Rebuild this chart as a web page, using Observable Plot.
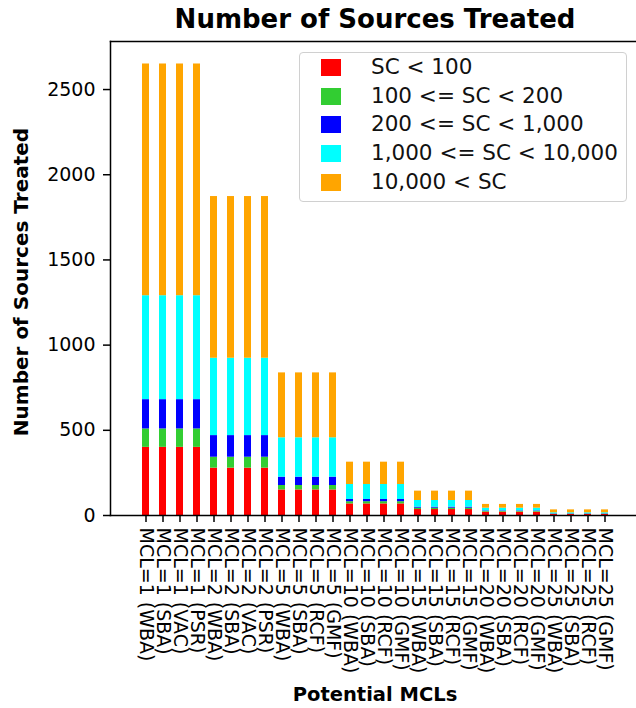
<!DOCTYPE html>
<html>
<head>
<meta charset="utf-8">
<script src="https://cdn.jsdelivr.net/npm/d3@7"></script>
<script src="https://cdn.jsdelivr.net/npm/@observablehq/plot@0.6"></script>
<style>
  body { margin: 0; background: #fff; font-family: "DejaVu Sans", sans-serif; color: #000; }
  #wrap { position: relative; width: 636px; height: 708px; overflow: hidden; }
  #title { position: absolute; left: 375px; top: 6px; transform: translateX(-50%); font-weight: bold; font-size: 26px; line-height: 26px; white-space: nowrap; }
  #chart { position: absolute; left: 0; top: 36px; }
  #ylabel { position: absolute; left: 21px; top: 282px; transform: translate(-50%, -50%) rotate(-90deg); font-weight: bold; font-size: 20px; line-height: 20px; white-space: nowrap; }
  #xlabel { position: absolute; left: 375px; top: 685px; transform: translateX(-50%); font-weight: bold; font-size: 19.5px; line-height: 20px; white-space: nowrap; }
  #legend { position: absolute; left: 299px; top: 52px; width: 326px; height: 148px; border: 1px solid #d0d0d0; border-radius: 4px; background: rgba(255,255,255,0.85); box-sizing: content-box; }
  #legend > div { margin: 0 !important; padding: 0 !important; columns: auto !important; display: block !important; }
  #legend [class$="-swatch"] { display: flex !important; align-items: center; box-sizing: border-box; height: 28.7px; line-height: 28.7px; margin: 0 !important; padding: 0 0 0 21px !important; font-size: 21.5px; font-family: "DejaVu Sans", sans-serif; color: #111; overflow: visible; }
  #legend svg { margin-right: 30px !important; }
</style>
</head>
<body>
<div id="wrap">
  <div id="title">Number of Sources Treated</div>
  <div id="chart"></div>
  <div id="ylabel">Number of Sources Treated</div>
  <div id="xlabel">Potential MCLs</div>
  <div id="legend"></div>
</div>
<script>
// Categories (x axis tick labels)
const categories = [
  "MCL=1 (WBA)", "MCL=1 (SBA)", "MCL=1 (VAC)", "MCL=1 (PSR)",
  "MCL=2 (WBA)", "MCL=2 (SBA)", "MCL=2 (VAC)", "MCL=2 (PSR)",
  "MCL=5 (WBA)", "MCL=5 (SBA)", "MCL=5 (RCF)", "MCL=5 (GMF)",
  "MCL=10 (WBA)", "MCL=10 (SBA)", "MCL=10 (RCF)", "MCL=10 (GMF)",
  "MCL=15 (WBA)", "MCL=15 (SBA)", "MCL=15 (RCF)", "MCL=15 (GMF)",
  "MCL=20 (WBA)", "MCL=20 (SBA)", "MCL=20 (RCF)", "MCL=20 (GMF)",
  "MCL=25 (WBA)", "MCL=25 (SBA)", "MCL=25 (RCF)", "MCL=25 (GMF)"
];

// Series (stack order bottom to top)
const seriesNames = ["SC < 100", "100 <= SC < 200", "200 <= SC < 1,000", "1,000 <= SC < 10,000", "10,000 < SC"];
const seriesColors = ["#ff0000", "#32cd32", "#0000ff", "#00ffff", "#ffa500"];

const scBelow100 = [400, 400, 400, 400, 278, 278, 278, 278, 150, 150, 150, 150, 68, 68, 68, 68, 35, 35, 35, 35, 20, 20, 20, 20, 6, 6, 6, 6];
const sc100to200 = [108, 108, 108, 108, 64, 64, 64, 64, 26, 26, 26, 26, 13, 13, 13, 13, 8, 8, 8, 8, 4, 4, 4, 4, 2, 2, 2, 2];
const sc200to1000 = [172, 172, 172, 172, 127, 127, 127, 127, 49, 49, 49, 49, 13, 13, 13, 13, 6, 6, 6, 6, 3, 3, 3, 3, 2, 2, 2, 2];
const sc1000to10000 = [610, 610, 610, 610, 454, 454, 454, 454, 231, 231, 231, 231, 88, 88, 88, 88, 39, 39, 39, 39, 16, 16, 16, 16, 6, 6, 6, 6];
const scAbove10000 = [1360, 1360, 1360, 1360, 949, 949, 949, 949, 381, 381, 381, 381, 131, 131, 131, 131, 55, 55, 55, 55, 22, 22, 22, 22, 17, 17, 17, 17];

const yTicks = [0, 500, 1000, 1500, 2000, 2500];
const yMax = 2782;

const seriesValues = [scBelow100, sc100to200, sc200to1000, sc1000to10000, scAbove10000];
const data = [];
seriesNames.forEach((s, si) => {
  categories.forEach((c, ci) => data.push({category: c, series: s, value: seriesValues[si][ci]}));
});

const colorOpts = {domain: seriesNames, range: seriesColors};

const chart = Plot.plot({
  width: 636,
  height: 672,
  marginTop: 5,
  marginBottom: 193,
  marginLeft: 110,
  marginRight: 0,
  style: {fontFamily: "DejaVu Sans, sans-serif", color: "#000", background: "transparent"},
  x: {domain: categories, range: [124.5, 625], padding: 0.58, axis: null},
  y: {domain: [0, yMax], axis: null},
  color: colorOpts,
  marks: [
    Plot.barY(data, {x: "category", y: "value", fill: "series"}),
    Plot.axisX({tickRotate: 90, tickSize: 7, tickPadding: 5, fontSize: 19, strokeWidth: 1.5, label: null}),
    Plot.axisY({ticks: yTicks, tickSize: 7, tickPadding: 8, fontSize: 19, strokeWidth: 1.5, label: null, tickFormat: d => String(d)}),
    Plot.frame({anchor: "left", strokeWidth: 1.5}),
    Plot.frame({anchor: "top", strokeWidth: 1.5}),
    Plot.frame({anchor: "bottom", strokeWidth: 1.5})
  ]
});
document.getElementById("chart").appendChild(chart);

const legend = Plot.legend({color: colorOpts, legend: "swatches", columns: 1, swatchWidth: 20, swatchHeight: 17, style: {fontFamily: "DejaVu Sans, sans-serif"}});
document.getElementById("legend").appendChild(legend);
</script>
</body>
</html>
